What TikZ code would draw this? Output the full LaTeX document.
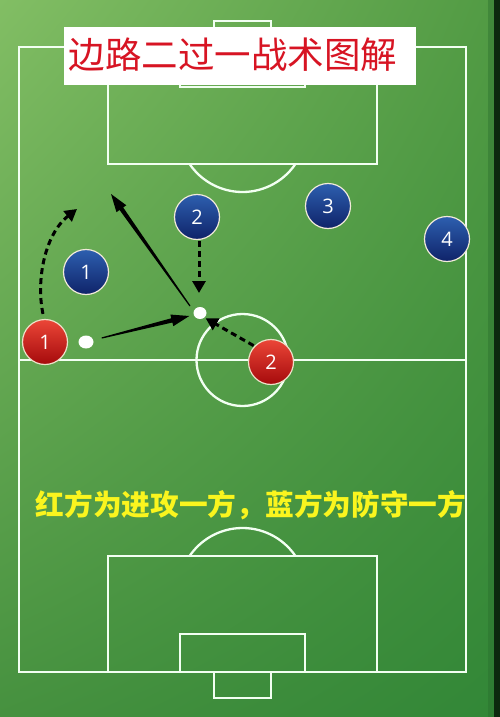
\documentclass[tikz,border=0pt]{standalone}
\usepackage{fontspec}
\setsansfont{Open Sans}
\newfontfamily\cjk{Noto Sans CJK SC}
\usetikzlibrary{arrows.meta,calc,shadings,shapes.geometric}
\definecolor{fieldA}{RGB}{130,190,100}
\definecolor{fieldB}{RGB}{82,155,68}
\definecolor{fieldC}{RGB}{70,145,63}
\definecolor{fieldD}{RGB}{50,135,55}
\definecolor{edgedark}{RGB}{12,40,14}
\definecolor{redtop}{RGB}{235,70,55}
\definecolor{redbot}{RGB}{165,10,12}
\definecolor{bluetop}{RGB}{45,95,175}
\definecolor{bluebot}{RGB}{15,35,105}
\definecolor{rim}{RGB}{235,225,200}
\definecolor{titlered}{RGB}{215,20,35}
\definecolor{textyellow}{RGB}{250,245,30}
\tikzset{
  fieldline/.style={draw=white!95!green, line width=2.3pt},
  redplayer/.style={circle, minimum size=45pt, inner sep=0pt, top color=redtop, bottom color=redbot, draw=rim, line width=1.2pt, text=white, font=\sffamily\fontsize{20}{20}\selectfont},
  blueplayer/.style={circle, minimum size=45pt, inner sep=0pt, top color=bluetop, bottom color=bluebot, draw=rim!70!white, line width=1.2pt, text=white, font=\sffamily\fontsize{20}{20}\selectfont},
  ballnode/.style={ellipse, fill=white, inner sep=0pt},
  runarrow/.style={draw=black, line width=3pt, dash pattern=on 6pt off 4pt, -{Triangle[length=12pt,width=13pt]}}
}
% tapered solid arrow from #1 to #2
\newcommand{\taperarrow}[4]{%
  \coordinate (tapP) at ($(#2)!#3!(#1)$);
  \fill[black] ($(#1)!0.6pt!90:(#2)$) -- ($(tapP)!#4!90:(#2)$) -- ($(tapP)!6pt!90:(#2)$) -- (#2)
    -- ($(tapP)!6pt!-90:(#2)$) -- ($(tapP)!#4!-90:(#2)$) -- ($(#1)!0.6pt!-90:(#2)$) -- cycle;}
\begin{document}
\begin{tikzpicture}[x=1pt,y=-1pt]
\useasboundingbox (0,0) rectangle (500,717);
% background
\shade[upper left=fieldA, upper right=fieldB, lower left=fieldC, lower right=fieldD] (0,0) rectangle (494,717);
\fill[edgedark] (494,0) rectangle (500,717);
\fill[fieldD!80!black, opacity=0.4] (488,0) rectangle (494,717);
% field lines
\draw[fieldline] (19,47) rectangle (466,672);
\draw[fieldline] (19,360) -- (466,360);
\draw[fieldline] (242.5,360) circle (46);
% top half
\draw[fieldline] (108,47) rectangle (377,164);
\draw[fieldline] (180,47) rectangle (305,87);
\draw[fieldline] (214,21) rectangle (271,47);
\draw[fieldline] ($(242.5,128)+(34:64)$) arc[start angle=34, end angle=146, radius=64];
% bottom half
\draw[fieldline] (108,556) rectangle (377,672);
\draw[fieldline] (180,634) rectangle (305,672);
\draw[fieldline] (214,672) rectangle (271,698);
\draw[fieldline] ($(242.5,592)+(-34:64)$) arc[start angle=-34, end angle=-146, radius=64];
% title
\node[fill=white, minimum width=352pt, minimum height=58pt, inner sep=0pt, anchor=north west] (titlebox) at (64,27) {};
\node[text=titlered, font=\cjk\fontsize{36.5}{36.5}\selectfont] (title) at (233,55) {边路二过一战术图解};
% players
\node[redplayer] (r1) at (45,342) {1};
\node[redplayer] (r2) at (271,362) {2};
\node[blueplayer] (b1) at (86,272) {1};
\node[blueplayer] (b2) at (197,217) {2};
\node[blueplayer] (b3) at (328,206) {3};
\node[blueplayer] (b4) at (447,239) {4};
% balls
\node[ballnode, minimum width=15pt, minimum height=13pt] (ball1) at (86,342) {};
\node[ballnode, minimum width=13pt, minimum height=12pt] (ball2) at (200,313) {};
% targets and arrow ends
\coordinate (runend) at (77,209);
\coordinate (longend) at (111,194);
\coordinate (passstart) at ($(ball1.east)+(8,-4)$);
\coordinate (passend) at ($(ball2.west)+(-4,3)$);
\coordinate (longstart) at ($(ball2)+(-10,-7)$);
% arrows
\taperarrow{passstart}{passend}{18pt}{2.2pt}
\taperarrow{longstart}{longend}{18pt}{2.2pt}
\draw[runarrow] (r1.north) ++(-2,-5) .. controls (36,282) and (44,235) .. (runend);
\draw[runarrow] (b2.south) ++(2,1) -- ($(ball2)+(-1,-20)$);
\draw[runarrow] (r2.north west) ++(-1,0) -- ($(ball2.south east)+(1,1)$);
% caption
\node[text=textyellow, font=\cjk\bfseries\fontsize{28.7}{28.7}\selectfont] (caption) at (251,505) {红方为进攻一方，蓝方为防守一方};
\end{tikzpicture}
\end{document}
